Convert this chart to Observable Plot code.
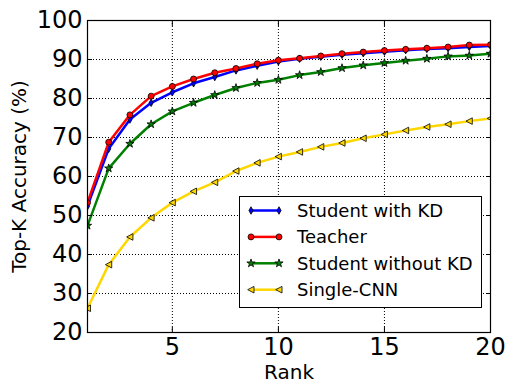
<!DOCTYPE html>
<html>
<head>
<meta charset="utf-8">
<script src="https://cdn.jsdelivr.net/npm/d3@7"></script>
<script src="https://cdn.jsdelivr.net/npm/@observablehq/plot@0.6"></script>
<style>
  html, body { margin: 0; padding: 0; background: white; }
  #chart { position: relative; width: 508px; height: 383px; font-family: "DejaVu Sans", sans-serif; }
  #legend { position: absolute; left: 0; top: 0; }
</style>
</head>
<body>
<div id="chart"></div>
<script>
const ranks = [1, 2, 3, 4, 5, 6, 7, 8, 9, 10, 11, 12, 13, 14, 15, 16, 17, 18, 19, 20];
const studentKD = [52.4, 67.1, 74.6, 78.9, 81.6, 83.9, 85.5, 87.2, 88.4, 89.5, 90.2, 90.7, 91.2, 91.6, 92.0, 92.4, 92.7, 92.9, 93.2, 93.5];
const teacher = [53.3, 68.8, 75.8, 80.6, 83.1, 85.0, 86.6, 87.7, 88.9, 89.8, 90.3, 90.9, 91.5, 91.9, 92.3, 92.6, 92.9, 93.2, 93.7, 93.8];
const studentNoKD = [47.4, 62.1, 68.4, 73.4, 76.7, 78.9, 80.9, 82.7, 84.0, 84.8, 86.0, 86.8, 87.8, 88.5, 89.1, 89.7, 90.2, 90.8, 91.0, 91.5];
const singleCNN = [26.2, 37.4, 44.5, 49.4, 53.3, 56.2, 58.5, 61.4, 63.5, 65.1, 66.3, 67.6, 68.6, 69.8, 70.8, 71.8, 72.7, 73.4, 74.2, 74.9];
const seriesNames = ["Student with KD", "Teacher", "Student without KD", "Single-CNN"];
const seriesValues = [studentKD, teacher, studentNoKD, singleCNN];
const seriesColors = ["#0000ff", "#ff0000", "#008000", "#ffd700"];
const xTicks = [5, 10, 15, 20];
const yTicks = [20, 30, 40, 50, 60, 70, 80, 90, 100];

// custom marker shapes (matplotlib 'd' thin diamond and '<' left triangle)
const thinDiamond = {
  draw(ctx, size) {
    const r = Math.sqrt(size / Math.PI);
    ctx.moveTo(0, -r * 1.25);
    ctx.lineTo(r * 0.7, 0);
    ctx.lineTo(0, r * 1.25);
    ctx.lineTo(-r * 0.7, 0);
    ctx.closePath();
  }
};
const leftTriangle = {
  draw(ctx, size) {
    const r = Math.sqrt(size / Math.PI);
    ctx.moveTo(-r * 1.1, 0);
    ctx.lineTo(r * 1.0, -r * 1.1);
    ctx.lineTo(r * 1.0, r * 1.1);
    ctx.closePath();
  }
};
const circleSym = {
  draw(ctx, size) {
    const r = Math.sqrt(size / Math.PI);
    ctx.moveTo(r, 0);
    ctx.arc(0, 0, r, 0, 2 * Math.PI);
  }
};
const starSym = d3.symbolStar;
const seriesSymbols = [thinDiamond, circleSym, starSym, leftTriangle];
const seriesR = [3, 3, 2.6, 3];

const data = seriesNames.map((name, si) =>
  ranks.map((rank, i) => ({rank, value: seriesValues[si][i], series: name}))
);

const marks = [
  Plot.gridX(xTicks, {stroke: "black", strokeOpacity: 1, strokeDasharray: "1,2", strokeWidth: 1}),
  Plot.gridY(yTicks, {stroke: "black", strokeOpacity: 1, strokeDasharray: "1,2", strokeWidth: 1})
];
data.forEach((rows, si) => {
  marks.push(Plot.line(rows, {x: "rank", y: "value", stroke: seriesColors[si], strokeWidth: 2.5, clip: true}));
  marks.push(Plot.dot(rows, {x: "rank", y: "value", fill: seriesColors[si], stroke: "black", strokeWidth: 0.8, r: seriesR[si], symbol: seriesSymbols[si], clip: true}));
});
marks.push(
  Plot.axisX(xTicks, {anchor: "bottom", tickSize: -5, tickPadding: 10, label: null, fontSize: 24}),
  Plot.axisX(xTicks, {anchor: "top", tickSize: -5, tickFormat: () => "", label: null}),
  Plot.axisY(yTicks, {anchor: "left", tickSize: -5, tickPadding: 10, label: null, fontSize: 24}),
  Plot.axisY(yTicks, {anchor: "right", tickSize: -5, tickFormat: () => "", label: null}),
  Plot.frame({stroke: "black", strokeWidth: 1.2}),
  Plot.text(["Rank"], {text: d => d, frameAnchor: "bottom", dy: 40, lineAnchor: "middle", textAnchor: "middle", fontSize: 20}),
  Plot.text(["Top-K Accuracy (%)"], {text: d => d, frameAnchor: "left", dx: -68, rotate: -90, textAnchor: "middle", lineAnchor: "middle", fontSize: 20})
);

const plot = Plot.plot({
  width: 508,
  height: 383,
  marginLeft: 87,
  marginRight: 18,
  marginTop: 20,
  marginBottom: 51,
  style: {fontFamily: "DejaVu Sans", fontSize: "24px", background: "white", color: "black"},
  x: {domain: [1, 20], axis: null},
  y: {domain: [20, 100], axis: null},
  marks
});
document.getElementById("chart").appendChild(plot);

// legend overlay
const lg = d3.select("#chart").append("svg").attr("id", "legend")
  .attr("width", 508).attr("height", 383);
lg.append("rect").attr("x", 239.5).attr("y", 196.5).attr("width", 242).attr("height", 111)
  .attr("fill", "white").attr("stroke", "black").attr("stroke-width", 1);
seriesNames.forEach((name, si) => {
  const cy = 210.5 + si * 26.4;
  const g = lg.append("g");
  g.append("line").attr("x1", 251).attr("x2", 279).attr("y1", cy).attr("y2", cy)
    .attr("stroke", seriesColors[si]).attr("stroke-width", 2.5);
  const sym = d3.symbol(seriesSymbols[si], Math.PI * seriesR[si] * seriesR[si]);
  [251, 279].forEach(x => {
    g.append("path").attr("d", sym()).attr("transform", `translate(${x},${cy})`)
      .attr("fill", seriesColors[si]).attr("stroke", "black").attr("stroke-width", 0.8);
  });
  g.append("text").attr("x", 297).attr("y", cy).attr("dy", "0.35em")
    .attr("font-family", "DejaVu Sans").attr("font-size", 18).attr("fill", "black").text(name);
});
</script>
</body>
</html>
